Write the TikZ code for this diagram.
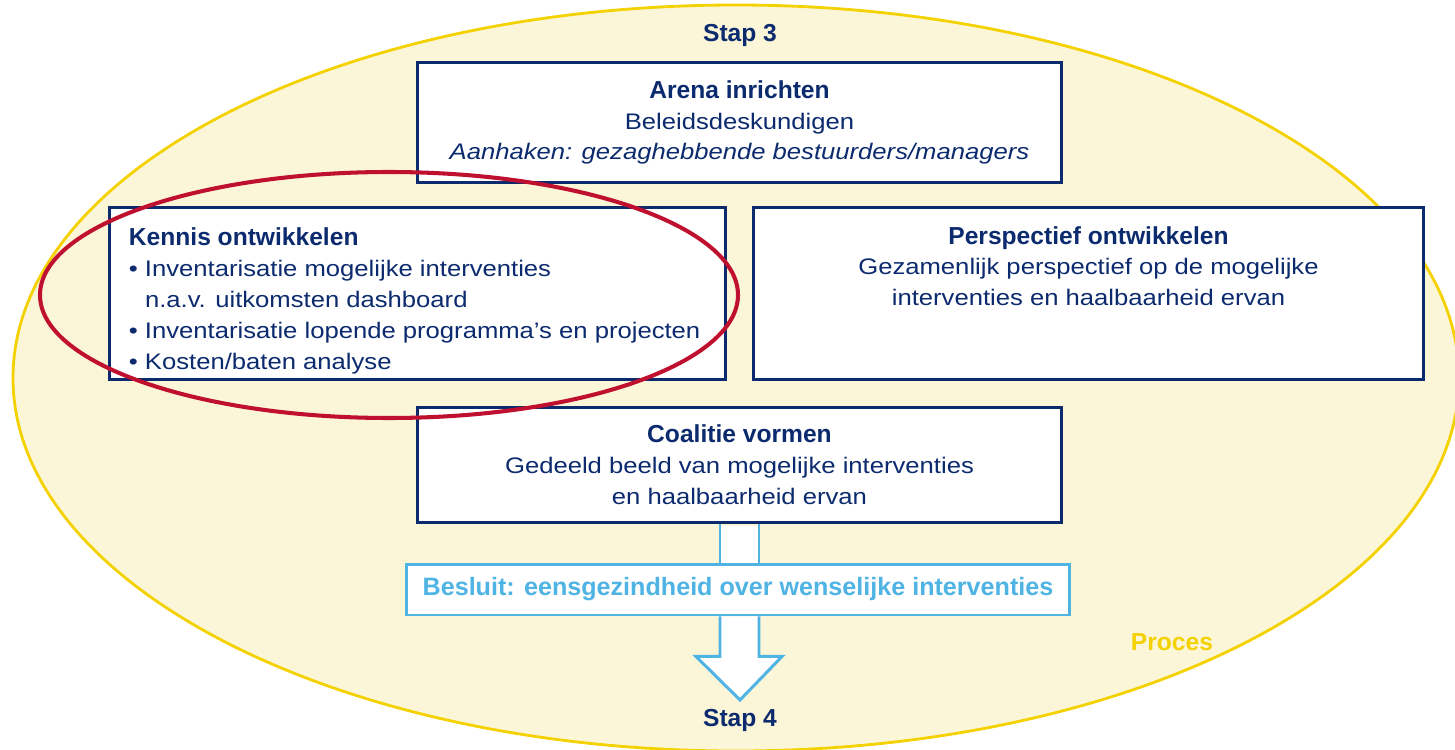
\documentclass[tikz,border=0pt]{standalone}
\usepackage{fontspec}
\setmainfont{Liberation Sans}
\newfontfamily\bodyfont{Liberation Sans}[FakeStretch=1.14]
\usetikzlibrary{positioning, calc}
\definecolor{kNavy}{HTML}{0C2B6E}
\definecolor{kSky}{HTML}{4FB4E4}
\definecolor{kGold}{HTML}{F4D100}
\definecolor{kCream}{HTML}{FCF6D8}
\definecolor{kRed}{HTML}{C0102F}
\tikzset{
  every node/.style={font=\bodyfont\fontsize{12.8}{17.6}\selectfont, text=kNavy},
  stepbox/.style={draw=kNavy, line width=1.7pt, fill=white, inner sep=0pt},
  decbox/.style={draw=kSky, line width=1.7pt, fill=white, inner sep=0pt,
                 font=\rmfamily\bfseries\fontsize{14.3}{17.6}\selectfont, text=kSky},
  flow/.style={draw=kSky, line width=1.7pt, fill=white, line join=miter},
  caption/.style={font=\rmfamily\bfseries\fontsize{14}{17.6}\selectfont},
}
\newcommand{\ttl}[1]{{\rmfamily\bfseries\fontsize{14}{17.6}\selectfont #1}}

\begin{document}
\begin{tikzpicture}[x=0.02cm, y=-0.02cm]
  \useasboundingbox (0,0) rectangle (1455,750);
  % process field
  \draw[kGold, line width=1.6pt, fill=kCream] (736,378) ellipse [x radius=723, y radius=373];
  \node[caption, text=kGold] (proces) at (1172,642) {Proces};
  \node[caption] (stap3) at (740,35) {Stap 3};
  \node[caption] (stap4) at (740,720) {Stap 4};
  % steps
  \node[stepbox, minimum width=12.9cm, minimum height=2.42cm, align=center] (arena) at (739.5,122.5)
    {\ttl{Arena inrichten}\\ Beleidsdeskundigen\\ \itshape Aanhaken: gezaghebbende bestuurders/managers};
  \node[stepbox, minimum width=12.34cm, minimum height=3.46cm] (kennis) at (417.5,293.5) {};
  \node[align=left, anchor=north west, inner sep=0pt] (kennistxt) at ($(kennis.north west)+(21,22)$)
    {\ttl{Kennis ontwikkelen}\\
     • Inventarisatie mogelijke interventies\\
     \phantom{• }n.a.v. uitkomsten dashboard\\
     • Inventarisatie lopende programma’s en projecten\\
     • Kosten/baten analyse};
  \node[stepbox, minimum width=13.42cm, minimum height=3.46cm] (persp) at (1088.5,293.5) {};
  \node[align=center, below=0.29cm of persp.north] (persptxt)
    {\ttl{Perspectief ontwikkelen}\\ Gezamenlijk perspectief op de mogelijke\\ interventies en haalbaarheid ervan};
  \node[stepbox, minimum width=12.9cm, minimum height=2.32cm, align=center] (coal) at (739.5,465)
    {\ttl{Coalitie vormen}\\ Gedeeld beeld van mogelijke interventies\\ en haalbaarheid ervan};
  % decision arrow
  \coordinate (tip) at (740,700);
  \fill[white] ($(coal.south)+(-19.5,2)$) rectangle ($(coal.south)+(19.5,41)$);
  \draw[flow] ($(coal.south)+(-19.5,0)$) -- ($(coal.south)+(-19.5,41)$)
              ($(coal.south)+(19.5,0)$) -- ($(coal.south)+(19.5,41)$);
  \draw[flow] ($(coal.south)+(-19.5,92)$) -- ($(coal.south)+(-19.5,132)$) -- ($(coal.south)+(-43.5,132)$)
    -- (tip) -- ($(coal.south)+(42.5,132)$) -- ($(coal.south)+(19.5,132)$) -- ($(coal.south)+(19.5,92)$);
  \node[decbox, minimum width=13.28cm, minimum height=1.02cm] (besluit) at (738,589.5)
    {Besluit: eensgezindheid over wenselijke interventies};
  % highlighted part
  \draw[kRed, line width=2.3pt] (389,295) ellipse [x radius=349, y radius=123];
\end{tikzpicture}
\end{document}
